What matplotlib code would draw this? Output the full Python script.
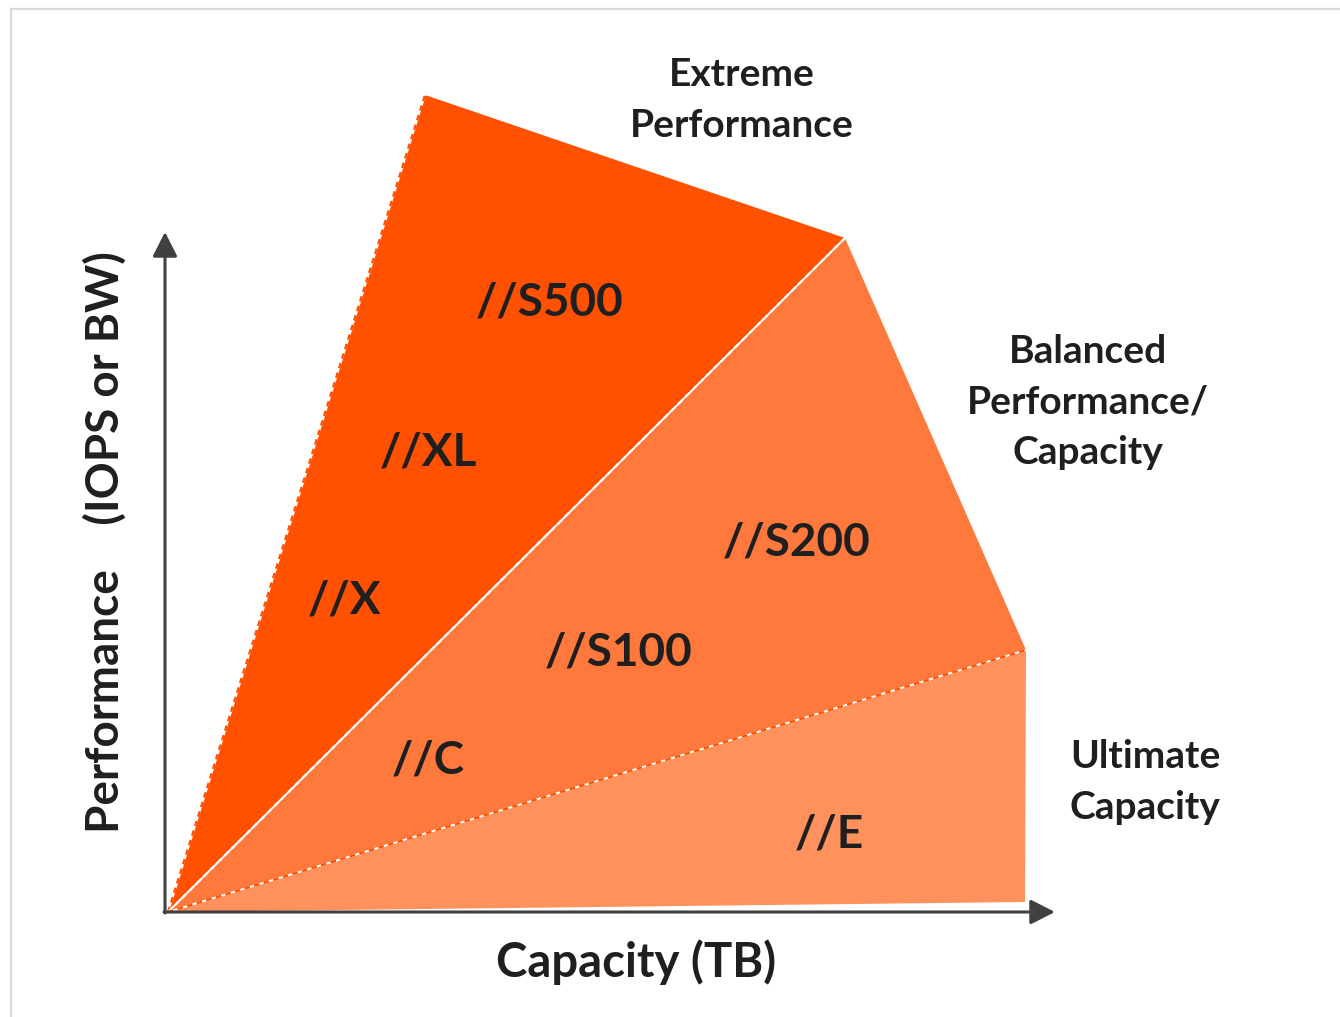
import matplotlib.pyplot as plt
from matplotlib.patches import Polygon
from matplotlib.lines import Line2D

# vertices of the fan (capacity, performance), origin first
cap = [0.3, 26.0, 68.0, 86.1, 86.0]
perf = [0.0, 81.7, 67.4, 26.2, 1.0]

# each tier is a triangle: origin + two outer vertices
tiers = [[0, 1, 2], [0, 2, 3], [0, 3, 4]]
tier_colors = ['#ff5100', '#ff783c', '#ff915c']

models = ['//S500', '//XL', '//X', '//S200', '//S100', '//C', '//E']
model_cap = [38.5, 26.3, 17.9, 63.2, 45.4, 26.3, 66.4]
model_perf = [61.0, 45.9, 31.1, 36.9, 26.0, 15.2, 7.8]

classes = ['Extreme\nPerformance', 'Balanced\nPerformance/\nCapacity', 'Ultimate\nCapacity']
class_cap = [57.7, 92.3, 98.0]
class_perf = [81.2, 51.0, 13.0]

txt = '#1f1f1f'
font = 'Lato'

fig = plt.figure(figsize=(13.4, 10.17), dpi=100)
ax = fig.add_axes([0, 0, 1, 1])
ax.set_xlim(-16.5, 117.5)
ax.set_ylim(-10.5, 91.2)
ax.axis('off')

for idx, c in zip(tiers, tier_colors):
    pts = [(cap[i], perf[i]) for i in idx]
    ax.add_patch(Polygon(pts, closed=True, facecolor=c, edgecolor='none', zorder=1))

# dashed separators from the origin
for k, dcol in [(1, '#ff5100'), (2, 'white'), (3, '#ff5100')]:
    ax.plot([cap[0], cap[k]], [perf[0], perf[k]], color='white', lw=1.4, zorder=2)
    ax.plot([cap[0], cap[k]], [perf[0], perf[k]], color=dcol, lw=1.6,
            dashes=(2.5, 2), zorder=3)

# axes arrows
arrow = dict(arrowstyle='-|>,head_length=0.75,head_width=0.38', color='#404040',
             lw=2.2, mutation_scale=20, shrinkA=0, shrinkB=0)
ax.annotate('', xy=(0, 68.0), xytext=(0, -0.1), arrowprops=arrow, zorder=4)
ax.annotate('', xy=(89.0, 0), xytext=(-0.1, 0), arrowprops=arrow, zorder=4)

for m, x, y in zip(models, model_cap, model_perf):
    ax.text(x, y, m, ha='center', va='center', fontsize=33, fontweight='bold',
            color=txt, family=font, zorder=5)

for m, x, y in zip(classes, class_cap, class_perf):
    ax.text(x, y, m, ha='center', va='center', fontsize=28, fontweight='bold',
            color=txt, family=font, linespacing=1.55, zorder=5)

ax.text(47.1, -5.0, 'Capacity (TB)', ha='center', va='center', fontsize=34,
        fontweight='bold', color=txt, family=font)
ax.text(-6.0, 37.0, 'Performance    (IOPS or BW)', ha='center', va='center',
        rotation=90, fontsize=33, fontweight='bold', color=txt, family=font)

# light frame around the slide (top and left edges visible)
fx, fy = 11 / 1340, 1 - 9 / 1017
fig.add_artist(Line2D([fx, 1], [fy, fy], transform=fig.transFigure, color='#d9d9d9', lw=1.6))
fig.add_artist(Line2D([fx, fx], [0, fy], transform=fig.transFigure, color='#d9d9d9', lw=1.6))

fig.savefig('out.png', dpi=100)
